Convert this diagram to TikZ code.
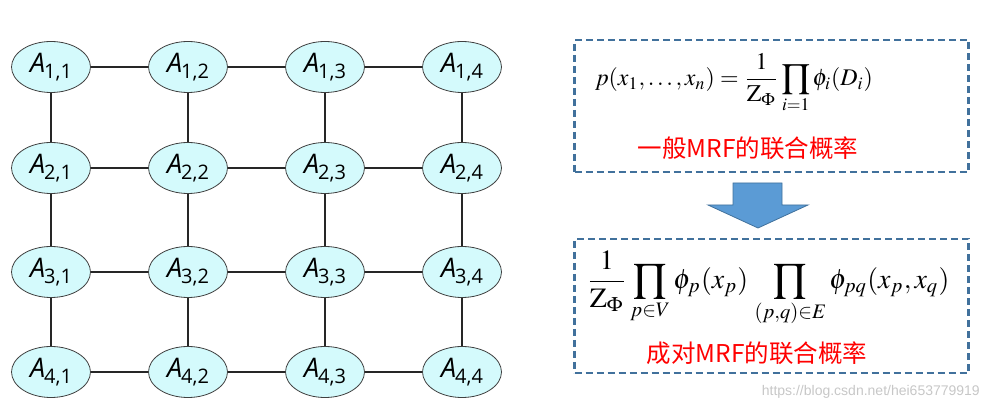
\documentclass[tikz,border=0pt]{standalone}
\usepackage{mathptmx}
\usepackage{graphicx}
\usepackage{fontspec}
\usetikzlibrary{shapes.geometric}
\newfontfamily\cjk{Noto Sans CJK SC}
\newfontfamily\lblfont{Open Sans}
\newfontfamily\wmfont{Liberation Sans}
\definecolor{nodefill}{HTML}{D4FAFC}
\definecolor{dashblue}{HTML}{41719C}
\definecolor{arrowfill}{HTML}{5B9BD5}
\newcommand{\lbl}[1]{{\lblfont\fontsize{27}{27}\selectfont\itshape A}\kern-1pt\raisebox{-6pt}{\lblfont\fontsize{20}{20}\selectfont #1}}
\begin{document}
\begin{tikzpicture}[x=1pt,y=-1pt,
  vnode/.style={ellipse,draw=black!75,line width=0.8pt,fill=nodefill,minimum width=79pt,minimum height=51pt,inner sep=0pt},
  edge/.style={line width=1.8pt,black!85},
  dashbox/.style={draw=dashblue,line width=2.8pt,dash pattern=on 7pt off 4pt,minimum width=394pt,minimum height=132pt,inner sep=0pt},
  redtxt/.style={text=red,font=\cjk\fontsize{24.5}{24.5}\selectfont,inner sep=0pt}]
\useasboundingbox (0,0) rectangle (989,411);
% grid nodes
\foreach \r/\y in {1/67,2/168,3/272,4/372}{
  \foreach \c/\x in {1/51,2/188,3/325,4/462}{
    \node[vnode] (a\r\c) at (\x,\y) {\lbl{\r,\c}};
  }
}
% edges horizontal
\foreach \r in {1,2,3,4}{
  \draw[edge] (a\r1) -- (a\r2);
  \draw[edge] (a\r2) -- (a\r3);
  \draw[edge] (a\r3) -- (a\r4);
}
% edges vertical
\foreach \c in {1,2,3,4}{
  \draw[edge] (a1\c) -- (a2\c);
  \draw[edge] (a2\c) -- (a3\c);
  \draw[edge] (a3\c) -- (a4\c);
}
% boxes
\node[dashbox,minimum height=132pt] (box1) at (771.5,106) {};
\node[dashbox,minimum height=134pt] (box2) at (771.5,306) {};
% formulas
\node[inner sep=0pt] (f1) at (734,83) {\resizebox{278pt}{!}{$\displaystyle p(x_1,\ldots,x_n)=\frac{1}{\mathrm{Z}_\Phi}\prod_{i=1}\phi_i(D_i)$}};
\node[redtxt] (t1) at (748,148) {一般MRF的联合概率};
\node[inner sep=0pt] (f2) at (768,289) {\resizebox{363pt}{!}{$\displaystyle \frac{1}{\mathrm{Z}_\Phi}\prod_{p\in V}\phi_p(x_p)\,\prod_{(p,q)\in E}\phi_{pq}(x_p,x_q)$}};
\node[redtxt] (t2) at (757,353) {成对MRF的联合概率};
% arrow
\draw[draw=dashblue,fill=arrowfill,line width=0.8pt] (733,183) -- (782,183) -- (782,205) -- (808,205) -- (758,228) -- (708,205) -- (733,205) -- cycle;
% watermark
\node[anchor=east,inner sep=0pt,text=black!22,font=\wmfont\fontsize{14}{14}\selectfont] (wm) at (980,392) {https://blog.csdn.net/hei653779919};
\end{tikzpicture}
\end{document}
